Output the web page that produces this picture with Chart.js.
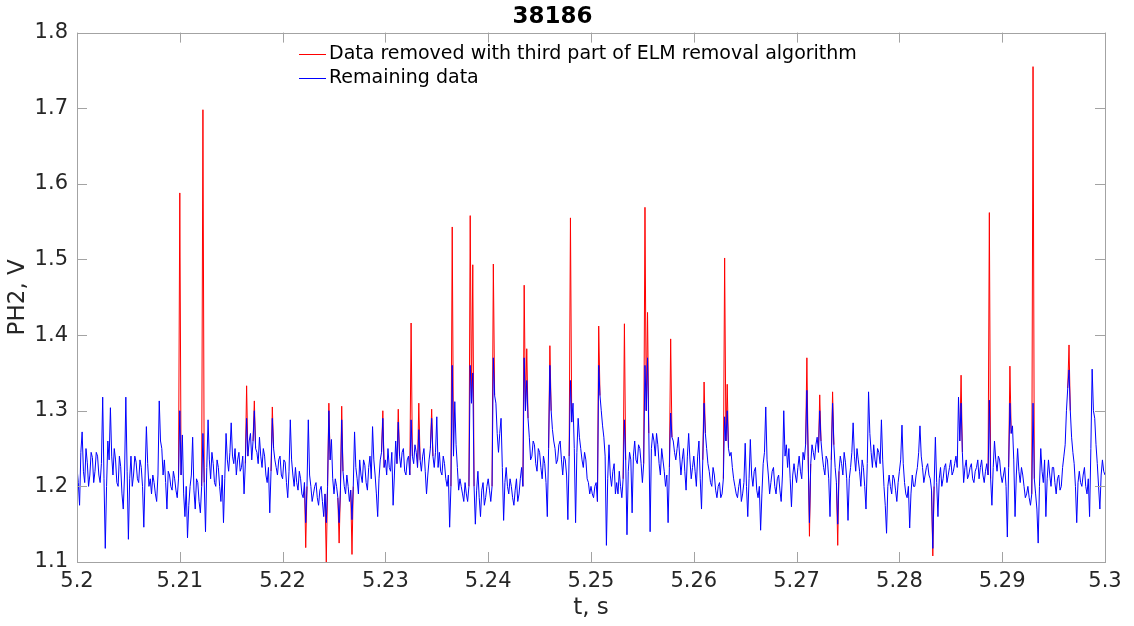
<!DOCTYPE html>
<html>
<head>
<meta charset="utf-8">
<title>38186</title>
<script src="https://cdn.jsdelivr.net/npm/chart.js@4.4.0/dist/chart.umd.min.js"></script>
<style>
  html, body { margin: 0; padding: 0; background: #fff; }
</style>
</head>
<body>
<canvas id="ph2" width="1134" height="626"></canvas>
<script>
'use strict';

// -------------------- data --------------------
// PH2 signal sampled every 0.125 ms from t = 5.2 s
const t0 = 5.2;
const dt = 0.000125;

// data left after ELM removal (V)
const remaining = [
  1.225, 1.205, 1.175, 1.245, 1.272, 1.22, 1.205, 1.25, 1.232, 1.2, 1.215, 1.245, 1.238, 1.205, 1.22, 1.245, 1.24, 1.215, 1.205, 1.23,
  1.318, 1.21, 1.118, 1.2, 1.26, 1.235, 1.304, 1.24, 1.215, 1.25, 1.235, 1.205, 1.2, 1.24, 1.226, 1.19, 1.17, 1.215, 1.318, 1.22,
  1.13, 1.21, 1.24, 1.2, 1.215, 1.24, 1.232, 1.21, 1.205, 1.235, 1.225, 1.2, 1.146, 1.215, 1.279, 1.23, 1.2, 1.21, 1.19, 1.215,
  1.205, 1.19, 1.18, 1.215, 1.313, 1.26, 1.25, 1.215, 1.235, 1.205, 1.17, 1.22, 1.215, 1.2, 1.195, 1.22, 1.21, 1.195, 1.185, 1.21,
  1.30, 1.215, 1.268, 1.19, 1.16, 1.2, 1.132, 1.175, 1.2, 1.215, 1.265, 1.195, 1.17, 1.21, 1.205, 1.18, 1.165, 1.2, 1.27, 1.205,
  1.14, 1.225, 1.288, 1.235, 1.21, 1.245, 1.23, 1.205, 1.2, 1.235, 1.225, 1.2, 1.18, 1.215, 1.152, 1.21, 1.27, 1.235, 1.22, 1.245,
  1.284, 1.24, 1.23, 1.25, 1.215, 1.235, 1.245, 1.22, 1.225, 1.24, 1.19, 1.23, 1.29, 1.24, 1.26, 1.27, 1.235, 1.26, 1.30, 1.25,
  1.245, 1.23, 1.265, 1.24, 1.225, 1.25, 1.24, 1.215, 1.205, 1.225, 1.165, 1.22, 1.29, 1.25, 1.235, 1.225, 1.215, 1.235, 1.24, 1.215,
  1.21, 1.235, 1.232, 1.205, 1.185, 1.22, 1.288, 1.235, 1.215, 1.2, 1.225, 1.205, 1.195, 1.22, 1.21, 1.19, 1.185, 1.205, 1.152, 1.2,
  1.288, 1.215, 1.2, 1.18, 1.19, 1.2, 1.205, 1.185, 1.175, 1.195, 1.2, 1.18, 1.16, 1.19, 1.152, 1.2, 1.30, 1.235, 1.262, 1.21,
  1.19, 1.21, 1.2, 1.185, 1.152, 1.195, 1.288, 1.22, 1.2, 1.19, 1.215, 1.2, 1.18, 1.195, 1.156, 1.2, 1.272, 1.225, 1.21, 1.19,
  1.235, 1.215, 1.205, 1.235, 1.228, 1.205, 1.195, 1.225, 1.24, 1.21, 1.279, 1.235, 1.215, 1.19, 1.16, 1.21, 1.235, 1.245, 1.29, 1.225,
  1.235, 1.215, 1.25, 1.225, 1.22, 1.245, 1.175, 1.215, 1.26, 1.23, 1.285, 1.24, 1.225, 1.245, 1.25, 1.22, 1.215, 1.235, 1.24, 1.215,
  1.288, 1.24, 1.23, 1.255, 1.245, 1.225, 1.275, 1.235, 1.22, 1.24, 1.25, 1.22, 1.19, 1.215, 1.235, 1.25, 1.29, 1.24, 1.225, 1.245,
  1.292, 1.225, 1.245, 1.22, 1.215, 1.24, 1.23, 1.21, 1.2, 1.215, 1.146, 1.2, 1.36, 1.24, 1.312, 1.255, 1.225, 1.195, 1.21, 1.2,
  1.19, 1.18, 1.205, 1.19, 1.18, 1.2, 1.36, 1.31, 1.35, 1.2, 1.15, 1.195, 1.22, 1.185, 1.16, 1.195, 1.205, 1.175, 1.185, 1.2,
  1.21, 1.195, 1.18, 1.2, 1.37, 1.32, 1.31, 1.27, 1.245, 1.27, 1.29, 1.225, 1.155, 1.205, 1.225, 1.2, 1.19, 1.21, 1.2, 1.185,
  1.175, 1.195, 1.21, 1.18, 1.19, 1.21, 1.225, 1.2, 1.37, 1.3, 1.34, 1.29, 1.265, 1.235, 1.24, 1.26, 1.255, 1.23, 1.22, 1.25,
  1.245, 1.225, 1.21, 1.24, 1.23, 1.205, 1.16, 1.25, 1.36, 1.3, 1.275, 1.26, 1.25, 1.23, 1.235, 1.255, 1.26, 1.235, 1.215, 1.24,
  1.235, 1.215, 1.156, 1.24, 1.34, 1.285, 1.31, 1.25, 1.152, 1.245, 1.29, 1.265, 1.25, 1.235, 1.225, 1.245, 1.235, 1.21, 1.205, 1.19,
  1.2, 1.19, 1.185, 1.2, 1.205, 1.18, 1.36, 1.32, 1.3, 1.28, 1.265, 1.24, 1.122, 1.21, 1.255, 1.215, 1.2, 1.22, 1.23, 1.19,
  1.205, 1.19, 1.22, 1.2, 1.185, 1.21, 1.288, 1.235, 1.136, 1.22, 1.245, 1.235, 1.165, 1.24, 1.26, 1.235, 1.23, 1.255, 1.25, 1.23,
  1.205, 1.23, 1.36, 1.3, 1.37, 1.27, 1.14, 1.25, 1.27, 1.26, 1.24, 1.27, 1.255, 1.23, 1.215, 1.25, 1.235, 1.22, 1.2, 1.215,
  1.152, 1.225, 1.297, 1.265, 1.26, 1.245, 1.235, 1.25, 1.265, 1.24, 1.215, 1.235, 1.25, 1.22, 1.195, 1.24, 1.27, 1.235, 1.21, 1.225,
  1.24, 1.22, 1.2, 1.24, 1.26, 1.21, 1.17, 1.235, 1.31, 1.27, 1.25, 1.23, 1.22, 1.205, 1.2, 1.225, 1.215, 1.195, 1.185, 1.2,
  1.205, 1.185, 1.19, 1.21, 1.292, 1.26, 1.30, 1.25, 1.24, 1.245, 1.225, 1.21, 1.2, 1.19, 1.185, 1.2, 1.21, 1.18, 1.19, 1.205,
  1.257, 1.2, 1.16, 1.21, 1.262, 1.215, 1.2, 1.22, 1.225, 1.195, 1.185, 1.2, 1.142, 1.19, 1.23, 1.245, 1.305, 1.235, 1.215, 1.19,
  1.205, 1.22, 1.225, 1.2, 1.19, 1.21, 1.215, 1.195, 1.18, 1.215, 1.30, 1.24, 1.255, 1.225, 1.25, 1.21, 1.173, 1.215, 1.23, 1.215,
  1.205, 1.225, 1.24, 1.22, 1.21, 1.245, 1.235, 1.255, 1.327, 1.24, 1.152, 1.23, 1.255, 1.245, 1.235, 1.255, 1.265, 1.245, 1.30, 1.26,
  1.24, 1.225, 1.215, 1.24, 1.235, 1.21, 1.16, 1.235, 1.31, 1.255, 1.225, 1.205, 1.15, 1.22, 1.24, 1.23, 1.215, 1.245, 1.232, 1.21,
  1.155, 1.21, 1.225, 1.245, 1.284, 1.24, 1.22, 1.25, 1.235, 1.22, 1.2, 1.235, 1.225, 1.2, 1.17, 1.23, 1.325, 1.27, 1.245, 1.225,
  1.255, 1.235, 1.225, 1.25, 1.245, 1.23, 1.288, 1.235, 1.2, 1.175, 1.138, 1.2, 1.215, 1.2, 1.19, 1.215, 1.21, 1.195, 1.18, 1.205,
  1.22, 1.235, 1.281, 1.23, 1.205, 1.19, 1.185, 1.2, 1.145, 1.19, 1.215, 1.2, 1.2, 1.215, 1.225, 1.245, 1.28, 1.24, 1.225, 1.205,
  1.215, 1.225, 1.23, 1.215, 1.21, 1.195, 1.118, 1.2, 1.265, 1.205, 1.16, 1.21, 1.225, 1.2, 1.21, 1.225, 1.23, 1.205, 1.215, 1.225,
  1.235, 1.215, 1.22, 1.23, 1.24, 1.225, 1.318, 1.26, 1.31, 1.245, 1.205, 1.225, 1.235, 1.21, 1.215, 1.225, 1.23, 1.21, 1.205, 1.22,
  1.225, 1.235, 1.21, 1.225, 1.235, 1.215, 1.205, 1.22, 1.23, 1.215, 1.314, 1.21, 1.175, 1.225, 1.26, 1.235, 1.22, 1.24, 1.235, 1.215,
  1.205, 1.215, 1.225, 1.2, 1.133, 1.225, 1.31, 1.27, 1.28, 1.235, 1.16, 1.215, 1.25, 1.22, 1.205, 1.225, 1.215, 1.2, 1.185, 1.19,
  1.2, 1.185, 1.175, 1.19, 1.31, 1.21, 1.19, 1.17, 1.125, 1.2, 1.25, 1.22, 1.205, 1.235, 1.16, 1.21, 1.235, 1.215, 1.2, 1.225,
  1.225, 1.205, 1.19, 1.21, 1.215, 1.195, 1.2, 1.225, 1.24, 1.255, 1.30, 1.33, 1.354, 1.3, 1.265, 1.245, 1.23, 1.2, 1.152, 1.205,
  1.22, 1.205, 1.2, 1.215, 1.225, 1.2, 1.19, 1.21, 1.16, 1.25, 1.355, 1.3, 1.29, 1.255, 1.23, 1.2, 1.17, 1.215, 1.235, 1.22,
  1.215
];

// samples cut out by the third ELM pass: sample index and raw value (V)
const elmIndex = [
  80, 98, 132, 138, 152, 178, 194, 196, 204, 206,
  214, 238, 250, 260, 266, 276, 292, 306, 308, 324,
  348, 350, 368, 384, 406, 426, 442, 444, 462, 488,
  504, 506, 568, 570, 578, 588, 592, 666, 688, 710,
  726, 744, 772
];
const elmValue = [
  1.588, 1.698, 1.333, 1.313, 1.305, 1.119, 1.10, 1.31, 1.125, 1.306,
  1.11, 1.30, 1.302, 1.416, 1.31, 1.302, 1.543, 1.558, 1.493, 1.494,
  1.466, 1.382, 1.386, 1.555, 1.412, 1.415, 1.569, 1.43, 1.395, 1.338,
  1.502, 1.335, 1.37, 1.134, 1.321, 1.325, 1.122, 1.108, 1.347, 1.562,
  1.359, 1.755, 1.387
];

const xTicks = [5.2, 5.21, 5.22, 5.23, 5.24, 5.25, 5.26, 5.27, 5.28, 5.29, 5.3];
const yTicks = [1.1, 1.2, 1.3, 1.4, 1.5, 1.6, 1.7, 1.8];

// -------------------- datasets --------------------
const timeOf = i => t0 + i * dt;

const remainingPoints = remaining.map((v, i) => ({ x: timeOf(i), y: v }));

// raw signal around each removed sample, gaps elsewhere
const raw = remaining.slice();
const keep = new Array(remaining.length).fill(false);
elmIndex.forEach((idx, k) => {
  raw[idx] = elmValue[k];
  for (let j = idx - 1; j <= idx + 1; j++) {
    if (j >= 0 && j < keep.length) keep[j] = true;
  }
});
const removedPoints = raw.map((v, i) => ({ x: timeOf(i), y: keep[i] ? v : null }));

// -------------------- plugins --------------------
// box round the plot with ticks pointing inwards
const axesBox = {
  id: 'axesBox',
  afterDatasetsDraw(chart) {
    const { ctx, chartArea: a, scales: { x, y } } = chart;
    const len = 10;
    ctx.save();
    ctx.strokeStyle = '#a3a3a3';
    ctx.lineWidth = 1;
    ctx.beginPath();
    x.ticks.forEach(t => {
      const px = Math.round(x.getPixelForValue(t.value)) + 0.5;
      ctx.moveTo(px, a.bottom);
      ctx.lineTo(px, a.bottom - len);
      ctx.moveTo(px, a.top);
      ctx.lineTo(px, a.top + len);
    });
    y.ticks.forEach(t => {
      const py = Math.round(y.getPixelForValue(t.value)) + 0.5;
      ctx.moveTo(a.left, py);
      ctx.lineTo(a.left + len, py);
      ctx.moveTo(a.right, py);
      ctx.lineTo(a.right - len, py);
    });
    ctx.stroke();
    ctx.strokeRect(Math.round(a.left) + 0.5, Math.round(a.top) + 0.5,
      Math.round(a.right - a.left), Math.round(a.bottom - a.top));
    ctx.restore();
  }
};

// legend drawn inside the plot, near the top
const innerLegend = {
  id: 'innerLegend',
  afterDraw(chart) {
    const { ctx, chartArea: a } = chart;
    const x0 = a.left + 222;
    const y0 = a.top + 21;
    ctx.save();
    ctx.font = '19px "DejaVu Sans"';
    ctx.textBaseline = 'middle';
    ctx.textAlign = 'left';
    chart.data.datasets.forEach((ds, i) => {
      const yy = y0 + i * 24.5;
      ctx.strokeStyle = ds.borderColor;
      ctx.lineWidth = 1;
      ctx.beginPath();
      ctx.moveTo(x0, Math.round(yy) + 0.5);
      ctx.lineTo(x0 + 27, Math.round(yy) + 0.5);
      ctx.stroke();
      ctx.fillStyle = '#000';
      ctx.fillText(ds.label, x0 + 30, yy);
    });
    ctx.restore();
  }
};

// -------------------- Chart.js --------------------
Chart.defaults.font.family = '"DejaVu Sans", sans-serif';

const ctx = document.getElementById('ph2').getContext('2d');
const ph2Chart = new Chart(ctx, {
  type: 'line',
  data: {
    datasets: [{
      label: 'Data removed with third part of ELM removal algorithm',
      data: removedPoints,
      borderColor: '#ff0000',
      borderWidth: 1,
      pointRadius: 0,
      spanGaps: false,
      order: 1
    }, {
      label: 'Remaining data',
      data: remainingPoints,
      borderColor: '#0000ff',
      borderWidth: 1,
      pointRadius: 0,
      order: 0
    }]
  },
  options: {
    responsive: false,
    animation: false,
    parsing: false,
    layout: { padding: { left: 0, right: 29, top: 0, bottom: 0 } },
    plugins: {
      legend: { display: false },
      tooltip: { enabled: false },
      title: {
        display: true,
        text: '38186',
        color: '#000',
        font: { size: 23, weight: 'bold' },
        padding: { top: 3, bottom: 2 }
      }
    },
    scales: {
      x: {
        type: 'linear',
        min: 5.2,
        max: 5.3,
        afterBuildTicks: s => { s.ticks = xTicks.map(v => ({ value: v })); },
        afterFit: s => { s.height = 64; },
        grid: { display: false, drawTicks: false, tickLength: 0 },
        border: { display: false },
        ticks: {
          autoSkip: false,
          maxRotation: 0,
          padding: 7,
          color: '#262626',
          font: { size: 21 },
          callback: v => String(v)
        },
        title: {
          display: true,
          text: 't, s',
          color: '#262626',
          font: { size: 23 },
          padding: { top: 4, bottom: 4 }
        }
      },
      y: {
        type: 'linear',
        min: 1.1,
        max: 1.8,
        afterBuildTicks: s => { s.ticks = yTicks.map(v => ({ value: v })); },
        afterFit: s => { s.width = 77; },
        grid: { display: false, drawTicks: false, tickLength: 0 },
        border: { display: false },
        ticks: {
          autoSkip: false,
          padding: 9,
          color: '#262626',
          font: { size: 21 },
          callback: v => String(v)
        },
        title: {
          display: true,
          text: 'PH2, V',
          color: '#262626',
          font: { size: 23 },
          padding: { top: 4, bottom: 4 }
        }
      }
    }
  },
  plugins: [axesBox, innerLegend]
});
</script>
</body>
</html>
